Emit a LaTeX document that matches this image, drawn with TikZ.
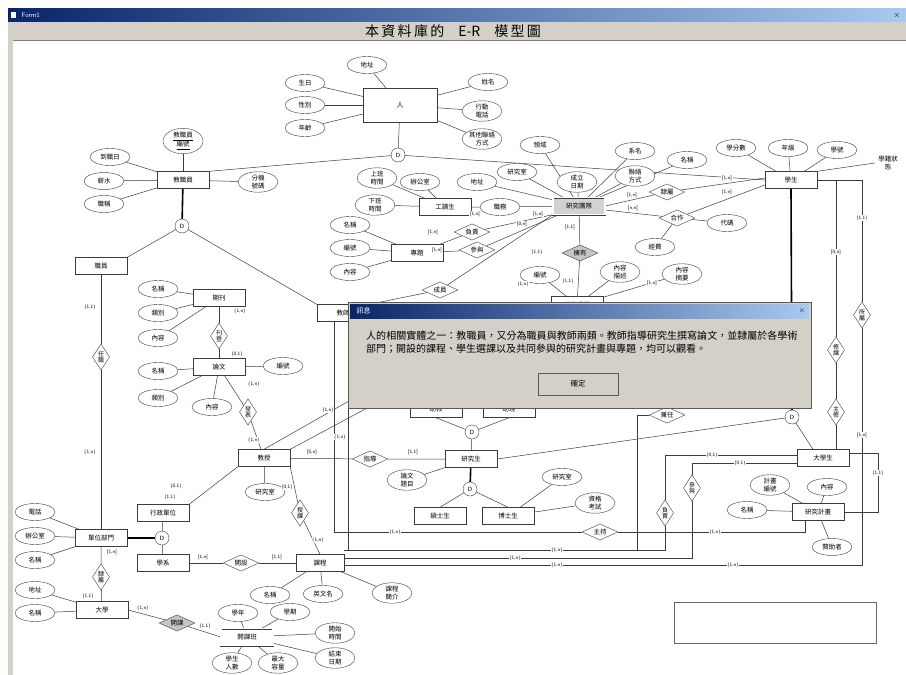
\documentclass[tikz,border=0pt]{standalone}
\usepackage{fontspec}
\newfontfamily\cjk{Noto Sans CJK TC}
\usetikzlibrary{shapes.geometric}
\XeTeXlinebreaklocale "zh"
\XeTeXlinebreakskip=0pt plus 1pt

\definecolor{winbar}{HTML}{0A246A}
\definecolor{winbarlt}{HTML}{A6CAF0}
\definecolor{winface}{HTML}{D4D0C8}
\definecolor{erline}{HTML}{3C3C3C}

\pgfdeclarelayer{bg}
\pgfsetlayers{bg,main}

\tikzset{
  every node/.style={font=\cjk\fontsize{6.5}{7.5}\selectfont},
  ent/.style={draw=erline, rectangle, minimum width=52, minimum height=17, inner sep=1pt, fill=white},
  wkent/.style={ent, double=white, double distance=1.2pt},
  attr/.style={draw=erline, ellipse, minimum width=40, minimum height=17, inner sep=0.5pt, align=center, fill=white},
  rel/.style={draw=erline, diamond, aspect=2.2, inner sep=1.5pt, fill=white},
  relv/.style={draw=erline, diamond, aspect=0.65, inner sep=1pt, align=center, fill=white,
    font=\cjk\fontsize{6}{6.5}\selectfont},
  dot/.style={draw=erline, circle, minimum size=14, inner sep=0pt, fill=white,
    font=\sffamily\fontsize{6}{6}\selectfont},
  card/.style={font=\sffamily\fontsize{5}{5}\selectfont, inner sep=0.6pt, fill=white},
  conn/.style={draw=erline, line width=0.5pt},
  thk/.style={draw=black, line width=1.6pt},
}

\begin{document}
\begin{tikzpicture}[x=1pt, y=-1pt]
\useasboundingbox (0,0) rectangle (906,675);
\begin{pgfonlayer}{bg}
  \fill[white] (0,0) rectangle (906,675);
  \shade[left color=winbar, right color=winbarlt] (8,8) rectangle (906,22);
  \fill[winface] (8,22) rectangle (906,40);
  \fill[winface] (8,40) rectangle (13,675);
  \draw[gray] (13,40.5) -- (906,40.5);
  \draw[gray!80!black] (674,602) rectangle (876,643);
\end{pgfonlayer}

% window header
\fill[white] (11,12) rectangle (16,18);
\node[anchor=west, text=white, font=\sffamily\fontsize{6.5}{6.5}\selectfont] (formname) at (18,15) {Form1};
\node[font=\sffamily\fontsize{8}{8}\selectfont] (formclose) at (897,15) {$\times$};
\node[font=\cjk\fontsize{14}{14}\selectfont] (pagetitle) at (453,31) {本\,資\,料\,庫\,的\quad E-R\quad 模\,型\,圖};

% person
\node[ent, minimum width=74, minimum height=34] (person) at (400,105) {人};
\node[attr] (pAddr) at (367,65) {地址};
\node[attr] (pBirth) at (305,83) {生日};
\node[attr] (pSex) at (305,105) {性別};
\node[attr] (pAge) at (305,128) {年齡};
\node[attr] (pName) at (488,82) {姓名};
\node[attr] (pMobile) at (482,111) {行動\\電話};
\node[attr] (pOther) at (482,139) {其他聯絡\\方式};
\node[dot] (dPerson) at (398,155) {D};

% staff side
\node[ent] (staff) at (183,180) {教職員};
\node[attr] (sId) at (183,141) {\underline{教職員}\\\underline{編號}};
\node[attr] (sDate) at (110,157) {到職日};
\node[attr] (sSalary) at (104,181) {薪水};
\node[attr] (sTitle) at (104,204) {職稱};
\node[attr] (sExt) at (258,182) {分機\\號碼};
\node[dot] (dStaff) at (182,226) {D};
\node[ent] (clerk) at (101,266) {職員};
\node[ent] (teacher) at (343,313) {教師};
\node[relv] (rBelong) at (101,357) {任\\職};

% journal and paper
\node[ent] (journal) at (219,298) {期刊};
\node[attr] (jName) at (158,289) {名稱};
\node[attr] (jType) at (158,313) {類別};
\node[attr] (jCont) at (158,338) {內容};
\node[relv] (rPub) at (219,336) {刊\\登};
\node[ent] (paper) at (219,367) {論文};
\node[attr] (ppName) at (158,371) {名稱};
\node[attr] (ppType) at (158,398) {類別};
\node[attr] (ppCont) at (212,407) {內容};
\node[attr] (ppNo) at (283,366) {編號};
\node[relv] (rWrite) at (248,412) {發\\表};
\node[ent] (prof) at (264,458) {教授};
\node[attr] (prRoom) at (265,492) {研究室};

% departments
\node[ent] (unit) at (101,538) {單位部門};
\node[attr] (uTel) at (35,512) {電話};
\node[attr] (uOffice) at (35,536) {辦公室};
\node[attr] (uName) at (35,560) {名稱};
\node[dot] (dUnit) at (162,538) {D};
\node[ent] (admin) at (163,513) {行政單位};
\node[ent] (dept) at (163,563) {學系};
\node[relv] (rIn) at (101,577) {隸\\屬};
\node[ent] (univ) at (102,610) {大學};
\node[attr] (unAddr) at (35,590) {地址};
\node[attr] (unName) at (35,613) {名稱};
\node[rel, fill=gray!45] (rOffer) at (177,623) {開課};
\node[wkent] (section) at (247,637) {開課班};
\node[attr] (scYear) at (238,613) {學年};
\node[attr] (scTerm) at (290,612) {學期};
\node[attr] (scStart) at (335,633) {開始\\時間};
\node[attr] (scEnd) at (335,658) {結束\\日期};
\node[attr] (scSize) at (232,663) {學生\\人數};
\node[attr] (scMax) at (278,663) {最大\\容量};
\node[rel] (rOpen) at (241,563) {開設};
\node[ent, minimum width=48] (course) at (320,563) {課程};
\node[attr] (cName) at (270,595) {名稱};
\node[attr] (cEng) at (323,594) {英文名};
\node[attr] (cDesc) at (392,593) {課程\\簡介};
\node[relv] (rTeach) at (300,513) {授\\課};

% graduate students
\node[rel] (rAdvise) at (370,459) {指導};
\node[ent] (grad) at (471,459) {研究生};
\node[attr] (gTopic) at (407,480) {論文\\題目};
\node[dot] (dGradUp) at (472,432) {D};
\node[ent] (ta) at (436,409) {助教};
\node[ent] (ra) at (509,409) {助理};
\node[dot] (dGrad) at (470,489) {D};
\node[ent] (master) at (440,516) {碩士生};
\node[ent] (phd) at (508,516) {博士生};
\node[attr] (phRoom) at (562,477) {研究室};
\node[attr] (phExam) at (595,503) {資格\\考試};

% research team
\node[ent] (worker) at (445,207) {工讀生};
\node[attr] (wIn) at (377,178) {上班\\時間};
\node[attr] (wOut) at (375,205) {下班\\時間};
\node[attr] (wOffice) at (420,182) {辦公室};
\node[attr] (wDuty) at (500,207) {職務};
\node[ent] (topic) at (417,253) {專題};
\node[attr] (tName) at (350,225) {名稱};
\node[attr] (tNo) at (350,248) {編號};
\node[attr] (tCont) at (350,272) {內容};
\node[rel] (rLead) at (472,232) {負責};
\node[rel] (rJoin) at (477,250) {參與};
\node[wkent, fill=gray!35] (team) at (579,206) {研究團隊};
\node[attr] (tmField) at (540,145) {領域};
\node[attr] (tmRoom) at (517,172) {研究室};
\node[attr] (tmAddr) at (477,182) {地址};
\node[attr] (tmDate) at (577,182) {成立\\日期};
\node[attr] (tmDept) at (635,151) {系名};
\node[attr] (tmContact) at (635,176) {聯絡\\方式};
\node[attr] (tmCode) at (687,160) {名稱};
\node[rel, fill=gray!45] (rOwn) at (580,253) {擁有};
\node[ent] (result) at (577,305) {研究成果};
\node[attr] (rsNo) at (540,275) {編號};
\node[attr] (rsDesc) at (620,272) {內容\\描述};
\node[attr] (rsAbs) at (682,274) {內容\\摘要};
\node[rel] (rMember) at (440,290) {成員};
\node[rel] (rAffil) at (667,192) {隸屬};
\node[rel] (rCoop) at (677,218) {合作};
\node[attr] (cpCode) at (727,223) {代碼};
\node[attr] (cpFund) at (655,247) {經費};

% students
\node[ent] (student) at (791,180) {學生};
\node[attr] (stCredit) at (736,148) {學分數};
\node[attr] (stYear) at (788,148) {年級};
\node[attr] (stNo) at (837,150) {學號};
\node[align=center] (stStatus) at (888,163) {學籍狀\\態};
\node[relv] (rTake) at (836,350) {修\\課};
\node[relv] (rOf) at (862,315) {所\\屬};
\node[relv] (rMajor) at (836,412) {主\\修};
\node[dot] (dStudent) at (792,417) {D};
\node[ent] (under) at (823,458) {大學生};
\node[relv] (rChair) at (665,513) {負\\責};
\node[relv] (rPart) at (692,488) {參\\與};
\node[ent] (plan) at (818,512) {研究計畫};
\node[attr] (plNo) at (770,485) {計畫\\編號};
\node[attr] (plCont) at (827,487) {內容};
\node[attr] (plName) at (747,510) {名稱};
\node[attr] (plSponsor) at (832,547) {贊助者};
\node[rel] (rHost) at (600,532) {主持};
\node[rel] (rServe) at (667,415) {兼任};

\coordinate (tchB) at (334,321.5);
\coordinate (tchB2) at (348,321.5);
\coordinate (planB) at (805,520.5);
\coordinate (busA) at (637,550);
\coordinate (hidA) at (400,372);
\coordinate (hidB) at (410,385);
\coordinate (hidC) at (667,395);

\begin{pgfonlayer}{bg}
  % person
  \foreach \a in {pAddr,pBirth,pSex,pAge,pName,pMobile,pOther}
    \draw[conn] (person) -- (\a);
  \draw[conn] (person) -- (dPerson);
  \draw[conn] (dPerson) -- (staff.north east);
  \draw[conn] (dPerson) -- (student.west);
  % staff
  \foreach \a in {sId,sDate,sSalary,sTitle,sExt}
    \draw[conn] (staff) -- (\a);
  \draw[thk] (staff) -- (dStaff);
  \draw[conn] (dStaff) -- (clerk.north east);
  \draw[conn] (dStaff) -- (teacher.north west);
  \draw[conn] (clerk) -- (rBelong) -- (unit);
  \foreach \a in {uTel,uOffice,uName}
    \draw[conn] (unit) -- (\a);
  \draw[thk] (unit) -- (dUnit);
  \draw[conn] (dUnit) -- (admin);
  \draw[conn] (dUnit) -- (dept);
  \draw[conn] (unit) -- (rIn) -- (univ);
  \foreach \a in {unAddr,unName}
    \draw[conn] (univ) -- (\a);
  \draw[conn] (univ.east) -- (rOffer) -- (section.west);
  \foreach \a in {scYear,scTerm,scStart,scEnd,scSize,scMax}
    \draw[conn] (section) -- (\a);
  \draw[conn] (dept) -- (rOpen) -- (course);
  \foreach \a in {cName,cEng,cDesc}
    \draw[conn] (course) -- (\a);
  % journal, paper, professor
  \foreach \a in {jName,jType,jCont}
    \draw[conn] (journal) -- (\a);
  \draw[conn] (journal) -- (rPub) -- (paper);
  \foreach \a in {ppName,ppType,ppCont,ppNo}
    \draw[conn] (paper) -- (\a);
  \draw[conn] (paper) -- (rWrite) -- (prof);
  \draw[conn] (prof) -- (prRoom);
  \draw[conn] (prof.south west) -- (admin.north east);
  \draw[conn] (prof.south east) -- (rTeach) -- (course.north);
  \draw[conn] (prof) -- (rAdvise) -- (grad);
  \draw[conn] (prof.north) -- (hidA);
  \draw[conn] (prof.north east) -- (hidB);
  % graduate students
  \draw[conn] (grad.south west) -- (gTopic);
  \draw[conn] (grad) -- (dGradUp);
  \draw[conn] (dGradUp) -- (ta.south);
  \draw[conn] (dGradUp) -- (ra.south);
  \draw[thk] (grad) -- (dGrad);
  \draw[conn] (dGrad) -- (master.north);
  \draw[conn] (dGrad) -- (phd.north);
  \draw[conn] (phd) -- (phRoom);
  \draw[conn] (phd) -- (phExam);
  \draw[conn] (grad.east) -- (dStudent);
  % research team
  \foreach \a in {wIn,wOut,wOffice}
    \draw[conn] (worker) -- (\a);
  \draw[conn] (worker) -- (wDuty) -- (team);
  \foreach \a in {tName,tNo,tCont}
    \draw[conn] (topic) -- (\a);
  \draw[conn] (topic) -- (rLead) -- (team.south west);
  \draw[conn] (topic) -- (rJoin) -- ([xshift=6pt]team.south west);
  \foreach \a in {tmField,tmRoom,tmAddr,tmDate,tmDept,tmContact,tmCode}
    \draw[conn] (team) -- (\a);
  \draw[conn] (team) -- (rOwn) -- (result);
  \foreach \a in {rsNo,rsDesc,rsAbs}
    \draw[conn] (result) -- (\a);
  \draw[conn] (team.south west) -- (rMember) -- (teacher.north east);
  \draw[conn] (team.east) -- (rAffil) -- ([yshift=2pt]student.west);
  \draw[conn] ([yshift=-4pt]team.east) -- (rCoop) -- ([yshift=-5pt]student.west);
  \draw[conn] (rCoop) -- (cpCode);
  \draw[conn] (rCoop) -- (cpFund);
  % students
  \foreach \a in {stCredit,stYear,stNo}
    \draw[conn] (student) -- (\a);
  \draw[conn] (student.north east) -- (stStatus.west);
  \draw[conn] (student.east) -- (862,180) -- (rOf.north);
  \draw[conn] (836,180) -- (rTake.north);
  \draw[conn] (rTake) -- (rMajor);
  \draw[conn] (rMajor.south) -- (rMajor.south |- under.north);
  \draw[thk] (student.south) -- (dStudent);
  \draw[conn] (dStudent) -- ([xshift=-10pt]under.north);
  \draw[conn] (rOf.south) |- ([yshift=-2pt]course.east);
  \draw[conn] ([yshift=3pt]under.west) -| (rChair.north);
  \draw[conn] ([yshift=-5pt]under.west) -| (rPart.north);
  \draw[conn] (rChair.south) |- ([yshift=13pt]course.east);
  \draw[conn] (rPart.south) |- ([yshift=5pt]course.east);
  \draw[conn] ([yshift=5pt]under.east) -- (878,453) -- (878,512) -- (plan.east);
  \foreach \a in {plNo,plCont,plName,plSponsor}
    \draw[conn] (plan) -- (\a);
  \draw[conn] (rHost.west) -| (tchB);
  \draw[conn] (rHost.east) -| (planB);
  \draw[conn] (tchB2) |- ([yshift=13pt]course.east);
  \draw[conn] (rServe.west) -| (busA);
  \draw[conn] (rServe.north) -- (hidC);
\end{pgfonlayer}

% cardinalities
\node[card] (c01) at (90,307) {(1,1)};
\node[card] (c02) at (90,452) {(1,n)};
\node[card] (c03) at (240,311) {(1,n)};
\node[card] (c04) at (237,354) {(0,1)};
\node[card] (c05) at (254,384) {(1,n)};
\node[card] (c06) at (254,440) {(1,n)};
\node[card] (c07) at (312,452) {[0,n]};
\node[card] (c08) at (413,452) {[1,1]};
\node[card] (c09) at (328,410) {(1,n)};
\node[card] (c10) at (340,437) {(1,n)};
\node[card] (c11) at (287,487) {(0,1)};
\node[card] (c12) at (318,540) {(1,n)};
\node[card] (c13) at (176,486) {(0,1)};
\node[card] (c14) at (170,497) {(1,1)};
\node[card] (c15) at (112,552) {[1,n]};
\node[card] (c16) at (88,596) {(1,1)};
\node[card] (c17) at (143,608) {(1,n)};
\node[card] (c18) at (205,626) {(1,1)};
\node[card] (c19) at (203,557) {[1,n]};
\node[card] (c20) at (277,557) {[1,1]};
\node[card] (c21) at (395,532) {(1,n)};
\node[card] (c22) at (715,532) {(1,n)};
\node[card] (c23) at (557,550) {(1,n)};
\node[card] (c24) at (515,558) {(1,n)};
\node[card] (c25) at (557,565) {(1,n)};
\node[card] (c26) at (733,565) {(1,n)};
\node[card] (c27) at (712,455) {(0,1)};
\node[card] (c28) at (740,463) {(0,1)};
\node[card] (c29) at (836,252) {[0,n]};
\node[card] (c30) at (862,218) {(1,1)};
\node[card] (c31) at (862,435) {[1,n]};
\node[card] (c32) at (878,473) {(1,1)};
\node[card] (c33) at (475,214) {[1,n]};
\node[card] (c34) at (538,214) {[1,n]};
\node[card] (c35) at (433,232) {[1,n]};
\node[card] (c36) at (437,250) {[1,n]};
\node[card] (c37) at (522,224) {[0,n]};
\node[card] (c38) at (537,252) {(1,1)};
\node[card] (c39) at (570,227) {[1,1]};
\node[card] (c40) at (568,281) {(1,1)};
\node[card] (c41) at (523,284) {(1,n)};
\node[card] (c42) at (632,195) {[1,n]};
\node[card] (c43) at (633,208) {[n,n]};
\node[card] (c44) at (727,178) {[1,n]};
\node[card] (c45) at (727,192) {[1,n]};
\node[card] (c46) at (652,283) {[1,n]};

% message box
\fill[winface] (348,302) rectangle (811,408);
\draw[gray!70!black] (348,302) rectangle (811,408);
\shade[left color=winbar, right color=winbarlt] (350,304) rectangle (809,318);
\node[anchor=west, text=white, font=\cjk\fontsize{7}{7}\selectfont] (msgtitle) at (353,311) {訊息};
\node[font=\sffamily\fontsize{7}{7}\selectfont] (msgclose) at (802,311) {$\times$};
\node[anchor=north west, text width=432, align=left, inner sep=0pt,
  font=\cjk\fontsize{10}{13}\selectfont] (msgtext) at (366,331)
  {人的相關實體之一：教職員，又分為職員與教師兩類。教師指導研究生撰寫論文，並隸屬於各學術部門；開設的課程、學生選課以及共同參與的研究計畫與專題，均可以觀看。};
\node[draw=black!65, line width=0.8pt, fill=winface, minimum width=80, minimum height=22,
  font=\cjk\fontsize{7.5}{8}\selectfont] (okbtn) at (578,384) {確定};
\end{tikzpicture}
\end{document}
